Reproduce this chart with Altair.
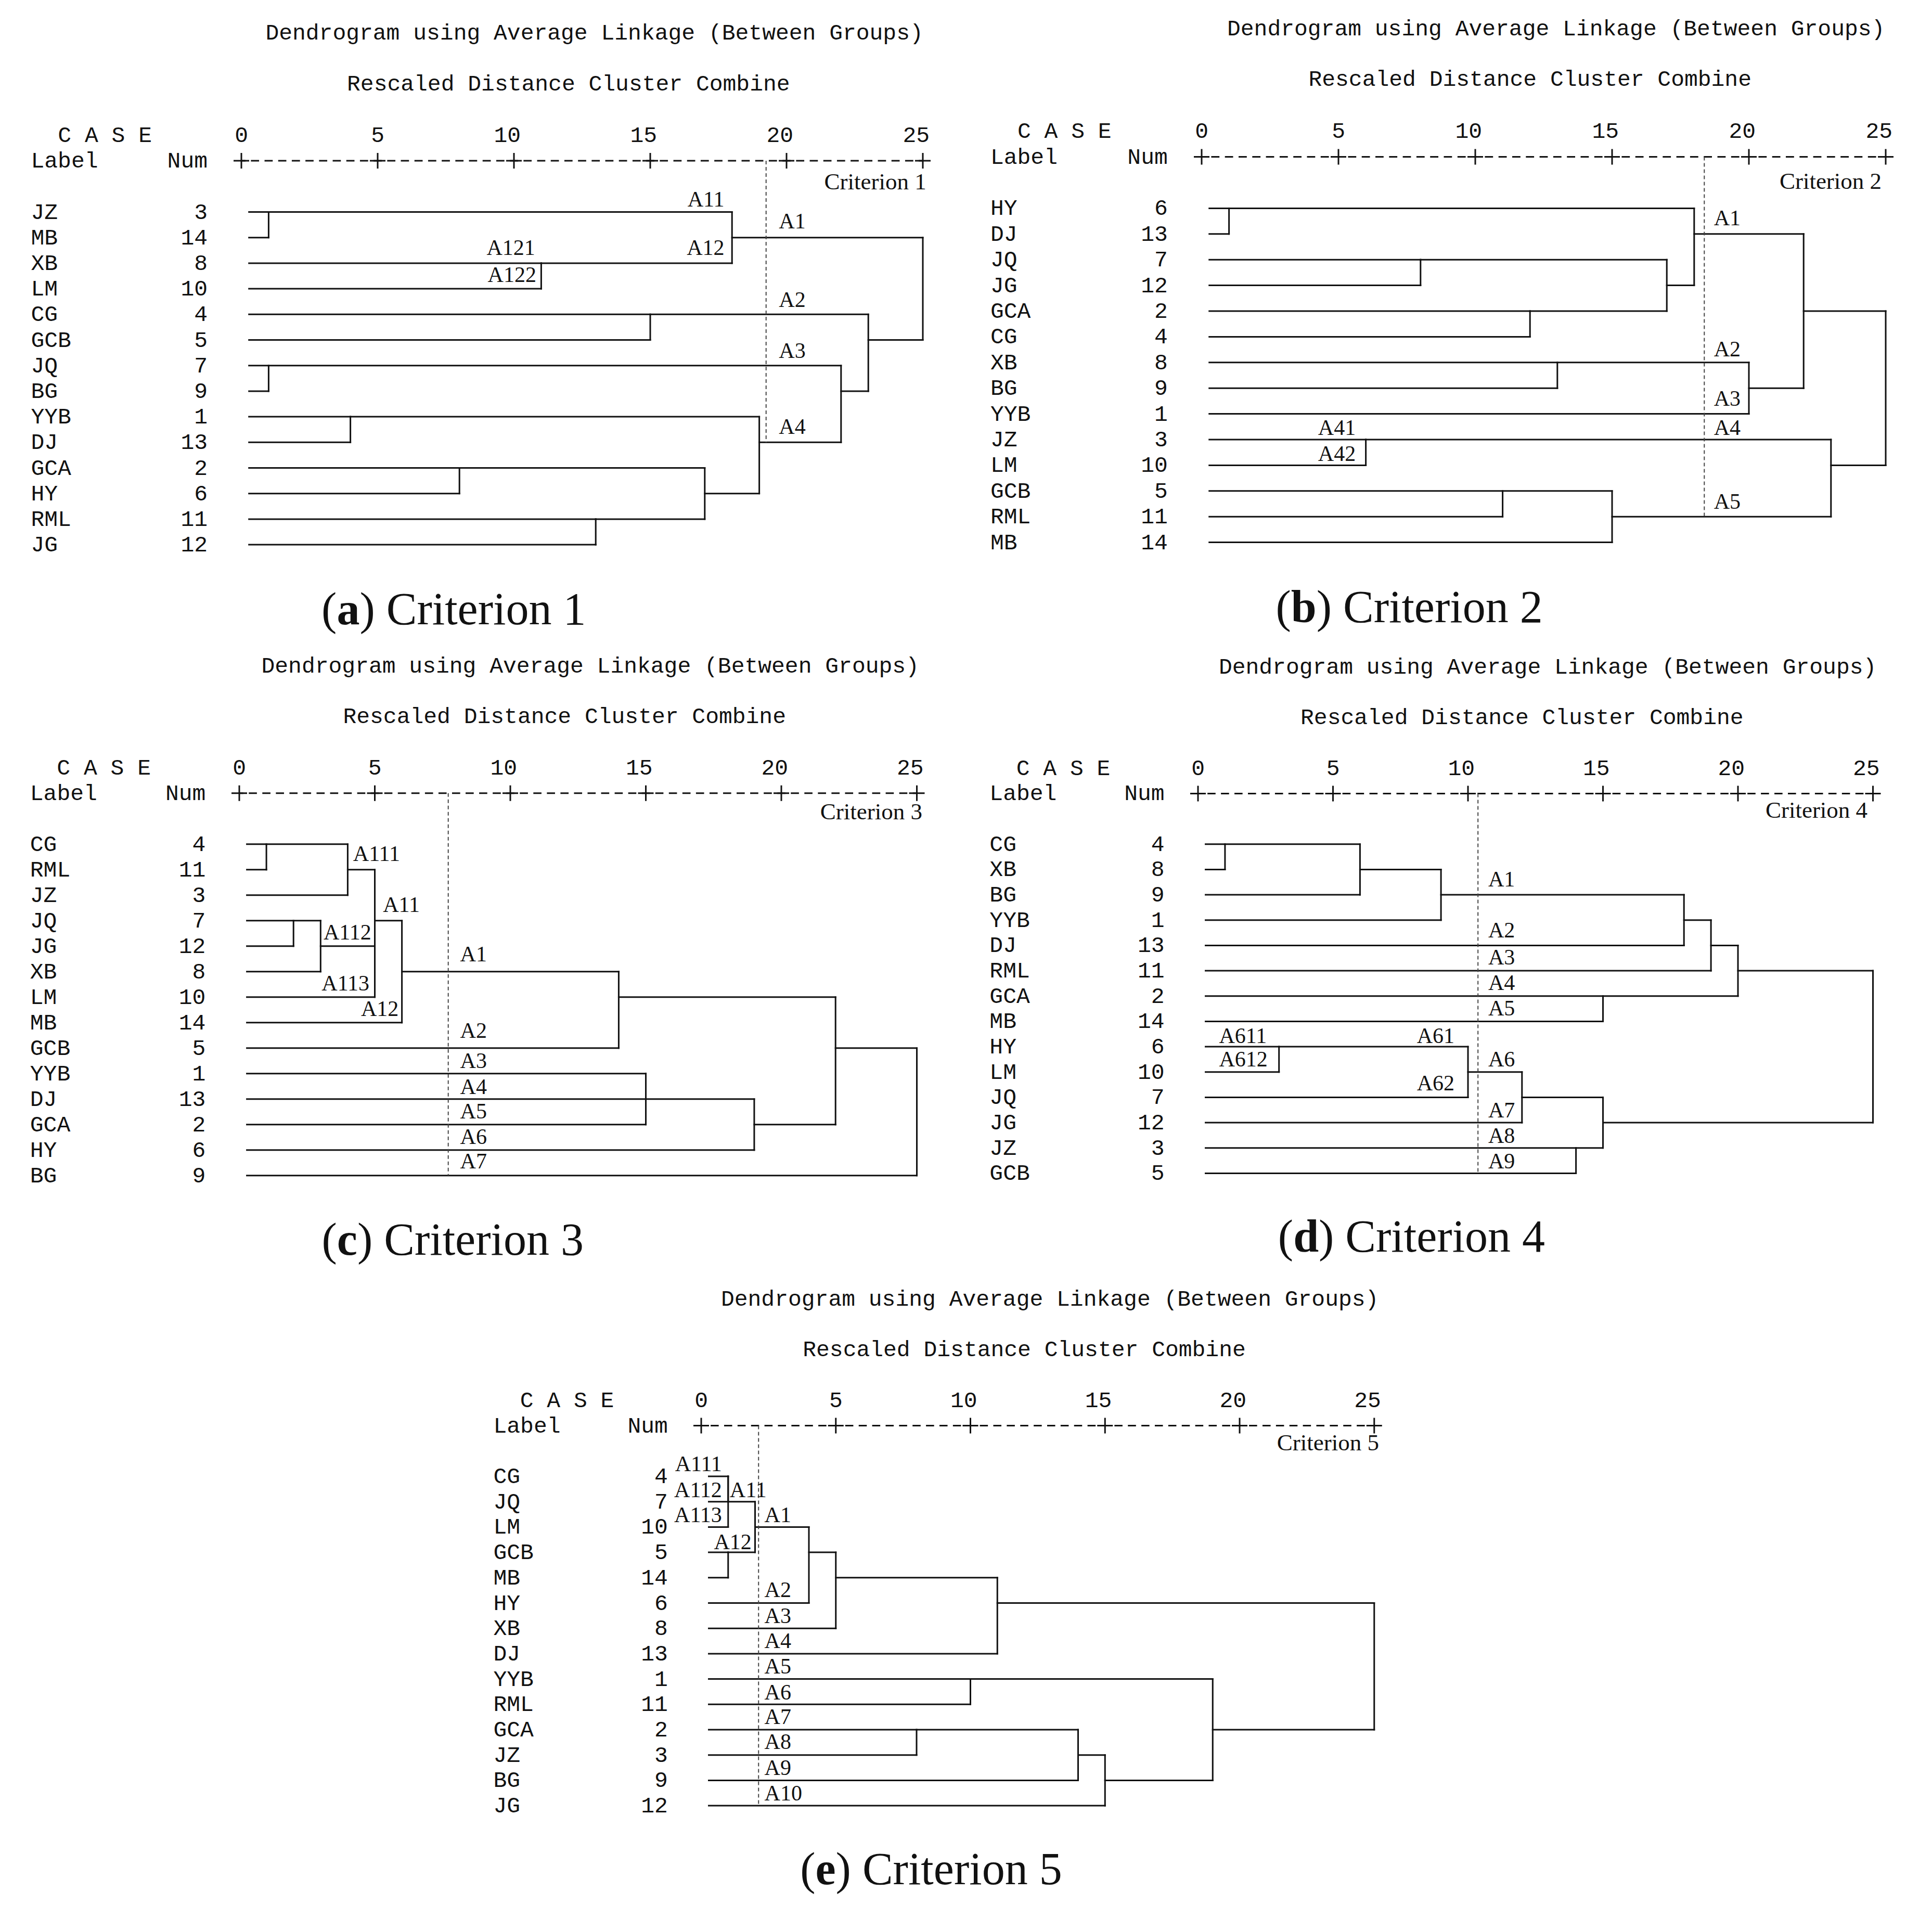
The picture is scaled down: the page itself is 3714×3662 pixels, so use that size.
import math
import pandas as pd
import altair as alt

# ---------------- chart content ----------------
TICKS = [0, 5, 10, 15, 20, 25]
TICK_LABELS = ["0", "5", "10", "15", "20", "25"]
TITLE_TEXT = "Dendrogram using Average Linkage (Between Groups)"
SUBTITLE_TEXT = "Rescaled Distance Cluster Combine"
CASE_TEXT = "C A S E"
LABEL_HEAD = "Label"
NUM_HEAD = "Num"

# (a) Criterion 1
A_LABELS = ["JZ", "MB", "XB", "LM", "CG", "GCB", "JQ", "BG", "YYB", "DJ", "GCA", "HY", "RML", "JG"]
A_NUMS = [3, 14, 8, 10, 4, 5, 7, 9, 1, 13, 2, 6, 11, 12]
A_MERGES = [("JZ", "MB", 1), ("XB", "LM", 11), (0, 1, 18), ("CG", "GCB", 15), ("JQ", "BG", 1),
            ("YYB", "DJ", 4), ("GCA", "HY", 8), ("RML", "JG", 13), (6, 7, 17), (5, 8, 19),
            (4, 9, 22), (3, 10, 23), (2, 11, 25)]
A_CUT, A_CUT_END = 19.25, 9
A_NOTES = [("A11", 17.72, -0.47, "right"), ("A12", 17.72, 1.42, "right"),
           ("A121", 10.78, 1.42, "right"), ("A122", 10.82, 2.47, "right"),
           ("A1", 19.72, 0.38, "left"), ("A2", 19.72, 3.44, "left"),
           ("A3", 19.72, 5.43, "left"), ("A4", 19.72, 8.4, "left")]

# (b) Criterion 2
B_LABELS = ["HY", "DJ", "JQ", "JG", "GCA", "CG", "XB", "BG", "YYB", "JZ", "LM", "GCB", "RML", "MB"]
B_NUMS = [6, 13, 7, 12, 2, 4, 8, 9, 1, 3, 10, 5, 11, 14]
B_MERGES = [("HY", "DJ", 1), ("JQ", "JG", 8), ("GCA", "CG", 12), (1, 2, 17), (0, 3, 18),
            ("XB", "BG", 13), (5, "YYB", 20), (4, 6, 22), ("JZ", "LM", 6), ("GCB", "RML", 11),
            (9, "MB", 15), (8, 10, 23), (7, 11, 25)]
B_CUT, B_CUT_END = 18.37, 12
B_NOTES = [("A1", 18.72, 0.4, "left"), ("A2", 18.72, 5.5, "left"), ("A3", 18.72, 7.43, "left"),
           ("A4", 18.72, 8.56, "left"), ("A5", 18.72, 11.42, "left"),
           ("A41", 5.63, 8.56, "right"), ("A42", 5.63, 9.56, "right")]

# (c) Criterion 3
C_LABELS = ["CG", "RML", "JZ", "JQ", "JG", "XB", "LM", "MB", "GCB", "YYB", "DJ", "GCA", "HY", "BG"]
C_NUMS = [4, 11, 3, 7, 12, 8, 10, 14, 5, 1, 13, 2, 6, 9]
C_MERGES = [("CG", "RML", 1), (0, "JZ", 4), ("JQ", "JG", 2), (2, "XB", 3), (3, "LM", 5),
            (1, 4, 5), (5, "MB", 6), (6, "GCB", 14), ("YYB", "DJ", 15), (8, "GCA", 15),
            (9, "HY", 19), (7, 10, 22), (11, "BG", 25)]
C_CUT, C_CUT_END = 7.71, 13
C_NOTES = [("A111", 4.2, 0.39, "left"), ("A11", 5.3, 2.39, "left"),
           ("A112", 4.87, 3.47, "right"), ("A113", 4.8, 5.47, "right"), ("A12", 5.88, 6.48, "right"),
           ("A1", 8.15, 4.33, "left"), ("A2", 8.15, 7.33, "left"), ("A3", 8.15, 8.52, "left"),
           ("A4", 8.15, 9.53, "left"), ("A5", 8.15, 10.49, "left"), ("A6", 8.15, 11.49, "left"),
           ("A7", 8.15, 12.45, "left")]

# (d) Criterion 4
D_LABELS = ["CG", "XB", "BG", "YYB", "DJ", "RML", "GCA", "MB", "HY", "LM", "JQ", "JG", "JZ", "GCB"]
D_NUMS = [4, 8, 9, 1, 13, 11, 2, 14, 6, 10, 7, 12, 3, 5]
D_MERGES = [("CG", "XB", 1), (0, "BG", 6), (1, "YYB", 9), (2, "DJ", 18), (3, "RML", 19),
            ("GCA", "MB", 15), (4, 5, 20), ("HY", "LM", 3), (7, "JQ", 10), (8, "JG", 12),
            ("JZ", "GCB", 14), (9, 10, 15), (6, 11, 25)]
D_CUT, D_CUT_END = 10.37, 13
D_NOTES = [("A611", 0.78, 7.58, "left"), ("A612", 0.78, 8.52, "left"),
           ("A61", 9.5, 7.58, "right"), ("A62", 9.5, 9.45, "right"),
           ("A1", 10.75, 1.4, "left"), ("A2", 10.75, 3.41, "left"), ("A3", 10.75, 4.49, "left"),
           ("A4", 10.75, 5.5, "left"), ("A5", 10.75, 6.5, "left"), ("A6", 10.75, 8.52, "left"),
           ("A7", 10.75, 10.53, "left"), ("A8", 10.75, 11.54, "left"), ("A9", 10.75, 12.55, "left")]

# (e) Criterion 5
E_LABELS = ["CG", "JQ", "LM", "GCB", "MB", "HY", "XB", "DJ", "YYB", "RML", "GCA", "JZ", "BG", "JG"]
E_NUMS = [4, 7, 10, 5, 14, 6, 8, 13, 1, 11, 2, 3, 9, 12]
E_MERGES = [("CG", "JQ", 1), (0, "LM", 1), ("GCB", "MB", 1), (1, 2, 2), (3, "HY", 4),
            (4, "XB", 5), (5, "DJ", 11), ("YYB", "RML", 10), ("GCA", "JZ", 8), (8, "BG", 14),
            (9, "JG", 15), (7, 10, 19), (6, 11, 25)]
E_CUT, E_CUT_END = 2.13, 13
E_NOTES = [("A111", 0.77, -0.47, "right"), ("A112", 0.77, 0.55, "right"),
           ("A113", 0.77, 1.53, "right"), ("A11", 1.06, 0.55, "left"), ("A12", 1.87, 2.6, "right"),
           ("A1", 2.35, 1.53, "left"), ("A2", 2.35, 4.49, "left"), ("A3", 2.35, 5.52, "left"),
           ("A4", 2.35, 6.51, "left"), ("A5", 2.35, 7.51, "left"), ("A6", 2.35, 8.54, "left"),
           ("A7", 2.35, 9.5, "left"), ("A8", 2.35, 10.5, "left"), ("A9", 2.35, 11.52, "left"),
           ("A10", 2.35, 12.52, "left")]

CRITERIA = ["Criterion 1", "Criterion 2", "Criterion 3", "Criterion 4", "Criterion 5"]
LETTERS = ["a", "b", "c", "d", "e"]

# ---------------- layout / style ----------------
ORIGIN = 8
PANEL_W, PANEL_H = 1848, 1215
INK = "#111111"
MONO = "Liberation Mono"
SERIF = "Liberation Serif"
MONO_SIZE = 43
NOTE_SIZE = 42
CRIT_SIZE = 45
CAP_SIZE = 88
LEAF_START = 0.28
BOLD_HALF = {"a": 0.25, "b": 0.278, "c": 0.222, "d": 0.278, "e": 0.222}

LAYOUT = {
    "a": dict(col=0, row=0, w=PANEL_W, x0=464.0, ux=52.4, y0=407.5, uy=49.2, crit=(25.13, -1.17), cap=3.92),
    "b": dict(col=1, row=0, w=PANEL_W, x0=2310.0, ux=52.6, y0=400.4, uy=49.4, crit=(24.85, -1.04), cap=3.73),
    "c": dict(col=0, row=1, w=PANEL_W, x0=460.0, ux=52.1, y0=1622.8, uy=49.0, crit=(25.2, -1.26), cap=3.98),
    "d": dict(col=1, row=1, w=PANEL_W, x0=2303.0, ux=51.9, y0=1622.8, uy=48.66, crit=(24.8, -1.34), cap=4.0),
    "e": dict(col=0, row=2, w=2 * PANEL_W, x0=1348.0, ux=51.75, y0=2838.0, uy=48.7, crit=(25.18, -1.32), cap=4.62),
}


def dendro_segments(labels, merges):
    pos = {lab: (i, LEAF_START) for i, lab in enumerate(labels)}
    nodes, segs = [], []
    for a, b, d in merges:
        ra, sa = pos[a] if isinstance(a, str) else nodes[a]
        rb, sb = pos[b] if isinstance(b, str) else nodes[b]
        segs.append(dict(x=sa, x2=d, y=ra, y2=ra))
        segs.append(dict(x=sb, x2=d, y=rb, y2=rb))
        segs.append(dict(x=d, x2=d, y=ra, y2=rb))
        nodes.append((math.floor((ra + rb) / 2), d))
    return pd.DataFrame(segs)


def make_panel(key, idx, labels, nums, merges, cut, cut_end, notes):
    L = LAYOUT[key]
    ox = ORIGIN + L["col"] * PANEL_W
    oy = ORIGIN + L["row"] * PANEL_H
    w, h = L["w"], PANEL_H
    xs = alt.Scale(domain=[(ox - L["x0"]) / L["ux"], (ox + w - L["x0"]) / L["ux"]], nice=False, zero=False)
    ys = alt.Scale(domain=[(oy - L["y0"]) / L["uy"], (oy + h - L["y0"]) / L["uy"]], nice=False, zero=False,
                   reverse=True)

    def enc(ch):
        return ch.encode(x=alt.X("x:Q", scale=xs, axis=None), y=alt.Y("y:Q", scale=ys, axis=None))

    def text(df, align, font, size, weight="normal", dx=0, baseline="middle"):
        return alt.Chart(pd.DataFrame(df)).mark_text(
            align=align, baseline=baseline, font=font, fontSize=size, fontWeight=weight,
            dx=dx, color=INK).encode(
            x=alt.X("x:Q", scale=xs, axis=None), y=alt.Y("y:Q", scale=ys, axis=None), text="text:N")

    layers = []
    # dendrogram branches
    seg = dendro_segments(labels, merges)
    layers.append(alt.Chart(seg).mark_rule(color=INK, strokeWidth=3, strokeCap="square").encode(
        x=alt.X("x:Q", scale=xs, axis=None), x2="x2:Q",
        y=alt.Y("y:Q", scale=ys, axis=None), y2="y2:Q"))
    # SPSS-style axis line +----+----+
    period = L["ux"] / 2.0
    dash = period * 0.6
    layers.append(alt.Chart(pd.DataFrame([dict(x=TICKS[0], x2=TICKS[-1], y=-2.0)])).mark_rule(
        color=INK, strokeWidth=3, strokeDash=[dash, period - dash], strokeDashOffset=dash / 2).encode(
        x=alt.X("x:Q", scale=xs, axis=None), x2="x2:Q", y=alt.Y("y:Q", scale=ys, axis=None)))
    layers.append(enc(alt.Chart(pd.DataFrame(dict(x=TICKS, y=[-2.0] * len(TICKS)))).mark_point(
        shape="M-1,0L1,0M0,-1L0,1", size=900, filled=False, color=INK, strokeWidth=3, opacity=1)))
    # cut line
    layers.append(alt.Chart(pd.DataFrame([dict(x=cut, y=-2.0, y2=cut_end)])).mark_rule(
        color="#444444", strokeWidth=2, strokeDash=[7, 5]).encode(
        x=alt.X("x:Q", scale=xs, axis=None), y=alt.Y("y:Q", scale=ys, axis=None), y2="y2:Q"))
    # headings
    layers.append(text([dict(x=12.95, y=-7.0, text=TITLE_TEXT), dict(x=12.0, y=-5.02, text=SUBTITLE_TEXT)],
                       "center", MONO, MONO_SIZE))
    layers.append(text([dict(x=t, y=-3.0, text=s) for t, s in zip(TICKS, TICK_LABELS)],
                       "right", MONO, MONO_SIZE, dx=13))
    layers.append(text([dict(x=-1.24, y=-2.0, text=NUM_HEAD)] +
                       [dict(x=-1.24, y=i, text=str(n)) for i, n in enumerate(nums)],
                       "right", MONO, MONO_SIZE))
    layers.append(text([dict(x=-6.73, y=-3.0, text=CASE_TEXT), dict(x=-7.72, y=-2.0, text=LABEL_HEAD)] +
                       [dict(x=-7.72, y=i, text=s) for i, s in enumerate(labels)],
                       "left", MONO, MONO_SIZE))
    # criterion + cluster annotations
    cx, cy = L["crit"]
    layers.append(text([dict(x=cx, y=cy, text=CRITERIA[idx])], "right", SERIF, CRIT_SIZE))
    right_notes = [dict(x=x, y=y, text=t) for t, x, y, a in notes if a == "right"]
    left_notes = [dict(x=x, y=y, text=t) for t, x, y, a in notes if a == "left"]
    if right_notes:
        layers.append(text(right_notes, "right", SERIF, NOTE_SIZE))
    if left_notes:
        layers.append(text(left_notes, "left", SERIF, NOTE_SIZE))
    # caption "(x) Criterion n"
    letter = LETTERS[idx]
    half = BOLD_HALF[letter] * CAP_SIZE
    capd = [dict(x=L["cap"], y=16.1)]
    layers.append(text([dict(capd[0], text="(")], "right", SERIF, CAP_SIZE, dx=-half, baseline="alphabetic"))
    layers.append(text([dict(capd[0], text=letter)], "center", SERIF, CAP_SIZE, weight="bold",
                       baseline="alphabetic"))
    layers.append(text([dict(capd[0], text=") " + CRITERIA[idx])], "left", SERIF, CAP_SIZE, dx=half,
                       baseline="alphabetic"))
    return alt.layer(*layers).properties(width=w, height=h)


pa = make_panel("a", 0, A_LABELS, A_NUMS, A_MERGES, A_CUT, A_CUT_END, A_NOTES)
pb = make_panel("b", 1, B_LABELS, B_NUMS, B_MERGES, B_CUT, B_CUT_END, B_NOTES)
pc = make_panel("c", 2, C_LABELS, C_NUMS, C_MERGES, C_CUT, C_CUT_END, C_NOTES)
pd_ = make_panel("d", 3, D_LABELS, D_NUMS, D_MERGES, D_CUT, D_CUT_END, D_NOTES)
pe = make_panel("e", 4, E_LABELS, E_NUMS, E_MERGES, E_CUT, E_CUT_END, E_NOTES)

top = alt.hconcat(pa, pb, spacing=0).resolve_scale(x="independent", y="independent")
mid = alt.hconcat(pc, pd_, spacing=0).resolve_scale(x="independent", y="independent")
chart = (alt.vconcat(top, mid, pe, spacing=0)
         .resolve_scale(x="independent", y="independent")
         .properties(padding=0, background="white")
         .configure_view(strokeWidth=0))

chart.save("out.html", embed_options={"renderer": "svg", "actions": False})
